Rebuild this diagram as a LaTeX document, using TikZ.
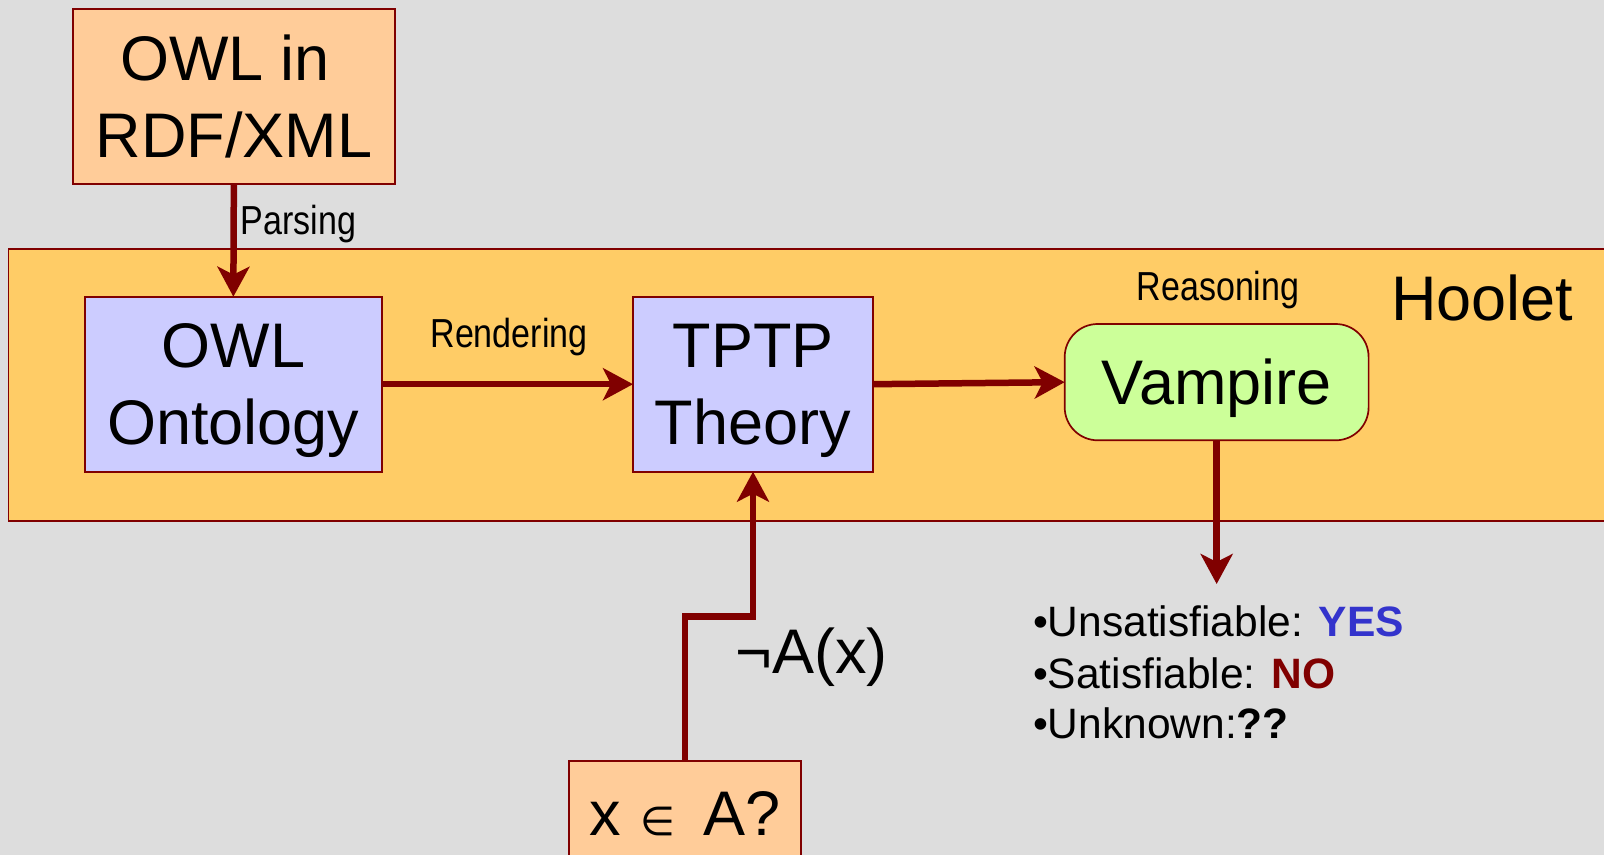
\documentclass[tikz,border=0pt]{standalone}
\usepackage{fontspec}
\setmainfont{Liberation Sans}
\newfontfamily\narrowfont[FakeStretch=0.84]{Liberation Sans}
\newfontfamily\dejavufont{DejaVu Sans}
\usetikzlibrary{arrows.meta,calc}
\definecolor{bgc}{HTML}{DDDDDD}
\definecolor{hooletc}{HTML}{FFCC66}
\definecolor{orangec}{HTML}{FFCC99}
\definecolor{lavc}{HTML}{CCCCFF}
\definecolor{greenc}{HTML}{CCFF99}
\definecolor{darkredc}{HTML}{800000}
\definecolor{yesc}{HTML}{3333CC}
\newcommand\mybigfont{\fontsize{31.5pt}{38.35pt}\selectfont}
\newcommand\mylabelfont{\narrowfont\fontsize{20.25pt}{24pt}\selectfont}
\newcommand\myresfont{\fontsize{21.25pt}{25.5pt}\selectfont}
\begin{document}
\begin{tikzpicture}[x=0.5pt,y=-0.5pt,
  box/.style={draw=darkredc, line width=0.85pt, inner sep=0pt, outer sep=0pt,
    align=center, font=\mybigfont, text depth=0pt},
  conn/.style={draw=darkredc, line width=3.25pt, line join=miter,
    -{Stealth[length=15pt,width=16pt,inset=4pt]}},
  lbl/.style={inner sep=0pt, outer sep=0pt, anchor=base west, font=\mylabelfont},
  res/.style={inner sep=0pt, outer sep=0pt, anchor=base west, font=\myresfont}
]
\clip (0,0) rectangle (1604,855);
\fill[bgc] (0,0) rectangle (1604,855);

% container
\node[draw=darkredc, line width=0.85pt, fill=hooletc, inner sep=0pt, outer sep=0pt,
  minimum width=845.7pt, minimum height=136pt] (hoolet) at (854.3,385) {};
\node[inner sep=0pt, anchor=base west, font=\mybigfont] (hooletlbl) at (1391,321) {Hoolet};

% boxes
\node[box, fill=orangec, minimum width=161.15pt, minimum height=87.5pt] (owlin) at (233.85,96.2)
  {OWL in\hspace*{0.28em}\\RDF/XML};
\node[box, fill=lavc, minimum width=148.35pt, minimum height=87.5pt] (ont) at (233.35,384.2)
  {OWL\\Ontology};
\node[box, fill=lavc, minimum width=120pt, minimum height=87.5pt] (tptp) at (753,384.2)
  {TPTP\\Theory};
\node[box, fill=greenc, rounded corners=16.5pt, minimum width=151.95pt, minimum height=58.15pt] (vamp) at (1216.65,382.15)
  {Vampire};
\node[box, fill=orangec, minimum width=116pt, minimum height=52pt] (query) at (685,813)
  {x\hspace{0.32em}{\dejavufont\fontsize{20pt}{20pt}\selectfont ∈}\hspace{0.45em}A?};

% connector labels
\node[lbl] (parsing) at (240.7,235) {Parsing};
\node[lbl] (rendering) at (430.5,347.3) {Rendering};
\node[lbl] (reasoning) at (1136.7,300) {Reasoning};
\node[inner sep=0pt, anchor=base west, font=\mybigfont] (negax) at (735,673) {¬A(x)};

% results
\node[res] (res1) at (1033,636.7) {•Unsatisfiable: \textcolor{yesc}{\bfseries YES}};
\node[res] (res2) at (1033,688.3) {•Satisfiable: \textcolor{darkredc}{\bfseries NO}};
\node[res] (res3) at (1033,738.3) {•Unknown:\textbf{??}};

% connectors
\coordinate (bend) at (0,616.7);
\coordinate (restip) at (0,584);
\draw[conn] (owlin.south) -- (ont.north);
\draw[conn] (ont.east) -- (tptp.west);
\draw[conn] (tptp.east) -- (vamp.west);
\draw[conn] (query.north) -- (query.north |- bend) -- (tptp.south |- bend) -- (tptp.south);
\draw[conn] (vamp.south) -- (vamp.south |- restip);
\end{tikzpicture}
\end{document}
